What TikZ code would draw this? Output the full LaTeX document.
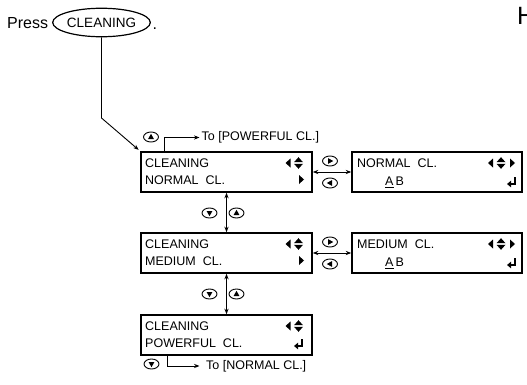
\documentclass[tikz,border=0pt]{standalone}
\usepackage{fontspec}
\setmainfont{Liberation Sans}
\usetikzlibrary{arrows.meta,shapes.geometric}

\tikzset{
  lcd/.style={draw, line width=1.6pt, minimum height=40pt, inner sep=0pt},
  lcdtxt/.style={anchor=base west, inner sep=0pt, font=\fontsize{12.5}{14}\selectfont},
  totxt/.style={anchor=west, inner sep=2pt, font=\fontsize{12.5}{14}\selectfont},
  btn/.style={draw, ellipse, line width=0.9pt, minimum width=15pt, minimum height=10pt, inner sep=0pt},
  conn/.style={line width=0.9pt},
}

% button icon: name, position, rotation of the triangle
\newcommand{\btnicon}[3]{%
  \node[btn] (#1) at (#2) {};
  \fill[shift={(#1.center)}, rotate=#3] (-2.9,2) -- (2.9,2) -- (0,-3.2) -- cycle;}
% display symbols
\newcommand{\lcdleft}[1]{\fill[shift={(#1)}] (2.5,-4.5) -- (2.5,4.5) -- (-2.5,0) -- cycle;}
\newcommand{\lcdright}[1]{\fill[shift={(#1)}] (-2.5,-4.5) -- (-2.5,4.5) -- (2.5,0) -- cycle;}
\newcommand{\lcdupdown}[1]{\fill[shift={(#1)}] (-4.5,-0.8) -- (4.5,-0.8) -- (0,-5.8) -- cycle
  (-4.5,0.8) -- (4.5,0.8) -- (0,5.8) -- cycle;}
\newcommand{\lcdenter}[1]{\draw[line width=1.1pt, shift={(#1)}] (3.5,-4.5) -- (3.5,2.5) -- (-1,2.5);
  \fill[shift={(#1)}] (-4.5,2.5) -- (-0.5,-0.8) -- (-0.5,5.8) -- cycle;}

\begin{document}
\begin{tikzpicture}[x=1pt, y=-1pt, >={Stealth[length=5.5pt,width=4.2pt]}]
    \useasboundingbox (0,0) rectangle (527,385);
    \clip (0,0) rectangle (527,385);

    % press the key
    \node[anchor=west, inner sep=2pt, font=\fontsize{16}{18}\selectfont] (press) at (5,23.5) {Press};
    \node[draw, ellipse, line width=1.2pt, minimum width=97pt, minimum height=28.5pt, inner sep=0pt,
          font=\fontsize{13.5}{15}\selectfont] (key) at (101.5,22.5) {CLEANING};
    \node[anchor=base west, inner sep=0pt, font=\fontsize{16}{18}\selectfont] (dot) at (152.5,29.3) {.};
    \node[anchor=base west, inner sep=0pt, font=\fontsize{25}{30}\selectfont] (head) at (517,25) {H};

    % left displays
    \node[lcd, minimum width=171pt] (clean1) at (226.5,172) {};
    \node[lcd, minimum width=171pt] (clean2) at (226.5,253) {};
    \node[lcd, minimum width=171pt] (clean3) at (226.5,335) {};
    % right displays
    \node[lcd, minimum width=170pt] (normal) at (437,172) {};
    \node[lcd, minimum width=170pt] (medium) at (437,253) {};

    % display texts
    \node[lcdtxt] (c1a) at (145,167.5) {CLEANING};
    \node[lcdtxt] (c1b) at (145,184) {NORMAL\ \ CL.};
    \node[lcdtxt] (c2a) at (145,248.5) {CLEANING};
    \node[lcdtxt] (c2b) at (145,265) {MEDIUM\ \ CL.};
    \node[lcdtxt] (c3a) at (145,330.5) {CLEANING};
    \node[lcdtxt] (c3b) at (145,347) {POWERFUL\ \ CL.};
    \node[lcdtxt] (n1a) at (357,167.5) {NORMAL\ \ CL.};
    \node[lcdtxt] (n1b) at (385,185.5) {\underline{A}\,B};
    \node[lcdtxt] (m1a) at (357,248.5) {MEDIUM\ \ CL.};
    \node[lcdtxt] (m1b) at (385,266.5) {\underline{A}\,B};

    % display symbols
    \lcdleft{288,163} \lcdupdown{298.5,163} \lcdright{301.5,179.5}
    \lcdleft{288,244} \lcdupdown{298.5,244} \lcdright{301.5,260.5}
    \lcdleft{288,326} \lcdupdown{298.5,326} \lcdenter{298.5,343.5}
    \lcdleft{490.5,163} \lcdupdown{501,163} \lcdright{512.5,163} \lcdenter{511.5,181.5}
    \lcdleft{490.5,244} \lcdupdown{501,244} \lcdright{512.5,244} \lcdenter{511.5,262.5}

    % from the key to the first display
    \coordinate (bend) at (101.5,118);
    \draw[conn, ->, shorten >=2pt] (key.south) -- (bend) -- (clean1.north west);

    % up from the first display
    \btnicon{upa}{151,137}{0}
    \node[totxt] (topow) at (199.5,137.5) {To [POWERFUL CL.]};
    \draw[conn, ->] ([xshift=-62pt]clean1.north) |- (topow.west);

    % down from the last display
    \btnicon{dnc}{151.5,364}{180}
    \node[totxt] (tonorm) at (204,366) {To [NORMAL CL.]};
    \draw[conn, ->, shorten >=4.5pt] ([xshift=-59pt]clean3.south) |- (tonorm.west);

    % between the left displays
    \draw[conn, <->] (clean1.south) -- (clean2.north);
    \btnicon{dn1}{209.5,213}{180}
    \btnicon{up1}{236.5,213}{0}
    \draw[conn, <->] (clean2.south) -- (clean3.north);
    \btnicon{dn2}{209.5,294}{180}
    \btnicon{up2}{236.5,294}{0}

    % to the right displays
    \draw[conn, <->] (clean1.east) -- (normal.west);
    \btnicon{rt1}{330,161}{-90}
    \btnicon{lt1}{330,183}{90}
    \draw[conn, <->] (clean2.east) -- (medium.west);
    \btnicon{rt2}{330,242}{-90}
    \btnicon{lt2}{330,264}{90}
\end{tikzpicture}
\end{document}
